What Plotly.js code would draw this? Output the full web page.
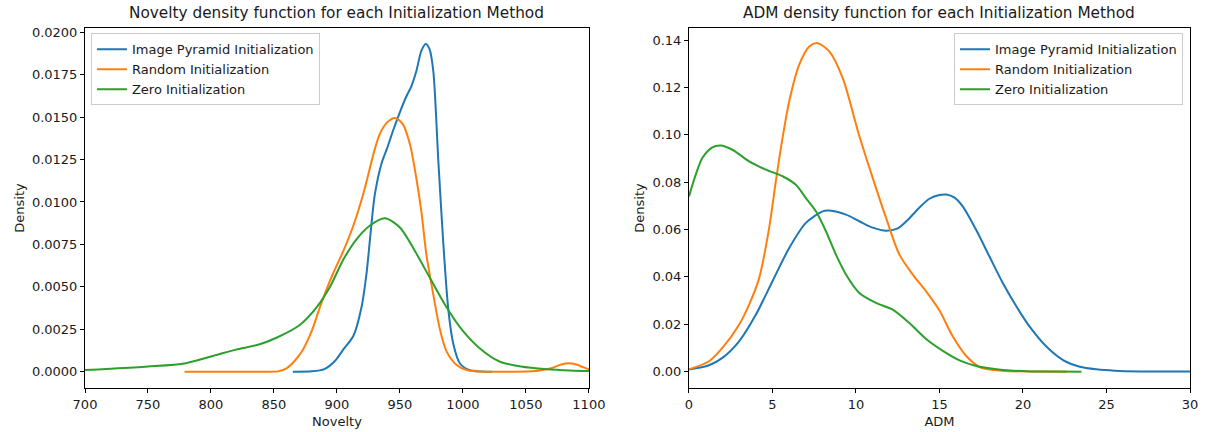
<!DOCTYPE html>
<html>
<head>
<meta charset="utf-8">
<script src="https://cdn.plot.ly/plotly-3.0.1.min.js"></script>
<style>html,body{margin:0;padding:0;background:#fff;}#chart{width:1207px;height:432px;}</style>
</head>
<body>
<div id="chart"></div>
<script>
// ---- Data ----
const seriesNames = ["Image Pyramid Initialization", "Random Initialization", "Zero Initialization"];
const colors = ["#1f77b4", "#ff7f0e", "#2ca02c"];

// Left: Novelty
const novPyrX = [865, 880, 890, 898, 905, 913, 919.5, 923.5, 926.5, 930, 935.5, 940, 945, 950, 955, 959, 963, 967, 970.5, 973.5, 976.5, 980.5, 984.5, 988.5, 992.5, 997.5, 1005, 1015, 1023];
const novPyrY = [0, 0.00002, 0.00015, 0.0006, 0.0013, 0.0021, 0.0038, 0.0058, 0.0080, 0.0104, 0.0123, 0.0132, 0.0143, 0.0153, 0.0162, 0.0168, 0.0177, 0.0189, 0.0193, 0.0190, 0.0177, 0.0124, 0.0075, 0.0036, 0.0016, 0.0005, 0.0001, 0.00001, 0];
const novRndX = [779, 810, 840, 853, 860, 866, 873, 880, 886.5, 892, 897, 905, 913, 921, 930, 934, 939.5, 946, 952.5, 958, 963, 967, 971, 976.5, 981.5, 987, 995, 1003, 1015, 1040, 1055, 1062, 1070, 1078, 1084, 1090, 1095, 1100, 1108, 1118];
const novRndY = [0, 0, 0, 0.00002, 0.0002, 0.0006, 0.0013, 0.0024, 0.0038, 0.0049, 0.0058, 0.0071, 0.0086, 0.0105, 0.0131, 0.0140, 0.01466, 0.01495, 0.01456, 0.01338, 0.01141, 0.00945, 0.0069, 0.00454, 0.00258, 0.0012, 0.0004, 0.0001, 0.00001, 0, 0.00002, 0.00008, 0.0002, 0.00042, 0.0005, 0.00042, 0.00028, 0.00014, 0.00004, 0];
const novZeroX = [680, 700, 720, 750, 780, 805, 820, 838, 852, 870.5, 884, 894.5, 905, 915.5, 926, 938, 950, 962, 974, 987, 1000, 1013, 1029, 1046, 1067, 1085, 1100, 1110];
const novZeroY = [0.00006, 0.0001, 0.00017, 0.0003, 0.0005, 0.001, 0.0013, 0.0016, 0.002, 0.00275, 0.0038, 0.005, 0.0066, 0.0078, 0.0086, 0.00904, 0.0085, 0.0071, 0.0055, 0.0038, 0.0024, 0.0014, 0.0006, 0.0003, 0.00014, 0.00007, 0.00004, 0.00003];

// Right: ADM
const admPyrX = [0, 1.2, 2, 3, 4, 5, 6, 7, 8, 8.4, 9.4, 10.2, 11.0, 11.8, 12.5, 13.2, 13.8, 14.4, 15.0, 15.4, 15.9, 16.4, 17.2, 18.0, 18.8, 19.6, 20.4, 21.4, 22.4, 23.4, 24.4, 25.5, 27, 30];
const admPyrY = [0.0009, 0.0027, 0.0058, 0.0128, 0.024, 0.0382, 0.0522, 0.0628, 0.0677, 0.068, 0.0663, 0.0635, 0.0608, 0.0595, 0.0605, 0.0648, 0.0693, 0.0730, 0.0746, 0.0748, 0.0735, 0.0697, 0.0598, 0.0485, 0.0373, 0.0276, 0.019, 0.0106, 0.0049, 0.0021, 0.001, 0.0004, 0.0001, 0.00002];
const admRndX = [0, 1.2, 2, 3, 3.6, 4.2, 4.8, 5.2, 5.6, 6, 6.6, 7.2, 7.7, 8.4, 9.2, 10.2, 11, 11.8, 12.6, 13.4, 14.2, 15, 15.8, 16.6, 17.5, 18.3, 19.2, 20.5, 22.6];
const admRndY = [0.001, 0.0044, 0.01, 0.0198, 0.0283, 0.0395, 0.0607, 0.0804, 0.0986, 0.1141, 0.1296, 0.1373, 0.1387, 0.1352, 0.124, 0.0995, 0.0818, 0.0649, 0.0494, 0.041, 0.0339, 0.0258, 0.0148, 0.0066, 0.0016, 0.0007, 0.0002, 0.00005, 0];
const admZeroX = [0, 0.4, 0.8, 1.4, 1.9, 2.6, 3.6, 4.6, 5.6, 6.4, 7, 7.6, 8.2, 8.8, 9.4, 10.2, 11.2, 12.2, 13.2, 14.2, 15.2, 16.2, 17.2, 18.2, 19.2, 20.5, 22, 23.5];
const admZeroY = [0.074, 0.0831, 0.0902, 0.0947, 0.0955, 0.0937, 0.0888, 0.0853, 0.0825, 0.0789, 0.0733, 0.0677, 0.0593, 0.0494, 0.041, 0.0332, 0.029, 0.0262, 0.0205, 0.0138, 0.0088, 0.0048, 0.0024, 0.0012, 0.0005, 0.0001, 0.00002, 0];

const titles = ["Novelty density function for each Initialization Method", "ADM density function for each Initialization Method"];
const xTitles = ["Novelty", "ADM"];
const yTitle = "Density";

// ---- Traces ----
const FONT = "DejaVu Sans, Verdana, sans-serif";
const TXT = "#1a1a1a";
function mk(x, y, i, ax, leg) {
  return {
    x: x, y: y, type: "scatter", mode: "lines", name: seriesNames[i],
    line: {color: colors[i], width: 2, shape: "spline", smoothing: 0.8},
    xaxis: ax[0], yaxis: ax[1], legend: leg, hoverinfo: "skip"
  };
}
const data = [
  mk(novPyrX, novPyrY, 0, ["x", "y"], "legend"),
  mk(novRndX, novRndY, 1, ["x", "y"], "legend"),
  mk(novZeroX, novZeroY, 2, ["x", "y"], "legend"),
  mk(admPyrX, admPyrY, 0, ["x2", "y2"], "legend2"),
  mk(admRndX, admRndY, 1, ["x2", "y2"], "legend2"),
  mk(admZeroX, admZeroY, 2, ["x2", "y2"], "legend2")
];

function axisBase() {
  return {
    showgrid: false, zeroline: false, showline: true, mirror: true,
    linecolor: "#000", linewidth: 1, ticks: "outside", ticklen: 4, tickwidth: 1,
    tickcolor: "#000", tickfont: {family: FONT, size: 13, color: TXT}
  };
}
const legendBase = {
  bgcolor: "rgba(255,255,255,0.8)", bordercolor: "#cccccc", borderwidth: 1,
  font: {family: FONT, size: 13, color: TXT}, yanchor: "top", y: 0.985
};
const axTitleFont = {family: FONT, size: 13, color: TXT};

const layout = {
  width: 1207, height: 432,
  margin: {l: 85, r: 17, t: 28, b: 44},
  paper_bgcolor: "#fff", plot_bgcolor: "#fff",
  font: {family: FONT, color: TXT},
  showlegend: true,
  xaxis: Object.assign(axisBase(), {domain: [0, 0.456], range: [700, 1100], dtick: 50, tick0: 700,
    title: {text: xTitles[0], font: axTitleFont, standoff: 6}}),
  yaxis: Object.assign(axisBase(), {domain: [0, 1], range: [-0.00096, 0.02025], dtick: 0.0025, tick0: 0, tickformat: ".4f",
    title: {text: yTitle, font: axTitleFont, standoff: 4}}),
  xaxis2: Object.assign(axisBase(), {domain: [0.5466, 1], range: [0, 30], dtick: 5, tick0: 0, anchor: "y2",
    title: {text: xTitles[1], font: axTitleFont, standoff: 6}}),
  yaxis2: Object.assign(axisBase(), {domain: [0, 1], range: [-0.0069, 0.1451], dtick: 0.02, tick0: 0, tickformat: ".2f", anchor: "x2",
    title: {text: yTitle, font: axTitleFont, standoff: 4}}),
  legend: Object.assign({}, legendBase, {x: 0.0054, xanchor: "left"}),
  legend2: Object.assign({}, legendBase, {x: 0.9937, xanchor: "right"}),
  annotations: [
    {text: titles[0], xref: "paper", yref: "paper", x: 0.228, y: 1, xanchor: "center", yanchor: "bottom", yshift: 4, showarrow: false,
      font: {family: FONT, size: 15.3, color: TXT}},
    {text: titles[1], xref: "paper", yref: "paper", x: 0.7733, y: 1, xanchor: "center", yanchor: "bottom", yshift: 4, showarrow: false,
      font: {family: FONT, size: 15.3, color: TXT}}
  ]
};

Plotly.newPlot("chart", data, layout, {staticPlot: true, displayModeBar: false});
</script>
</body>
</html>
